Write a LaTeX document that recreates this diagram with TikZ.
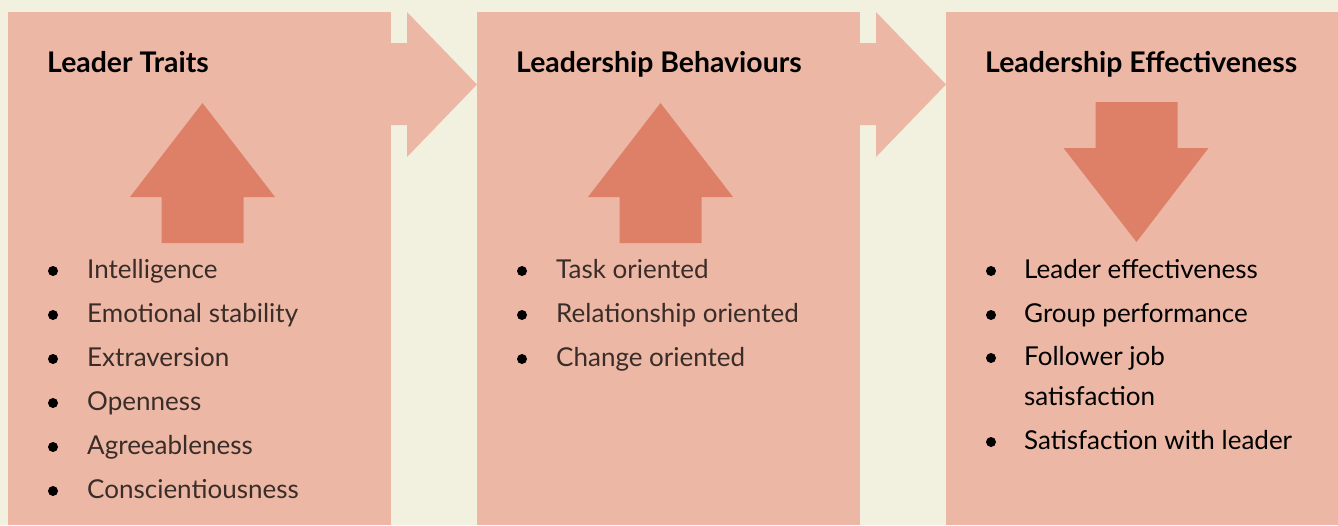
\documentclass[tikz,border=0pt]{standalone}
\usepackage{fontspec}
\setmainfont{Lato}
\usetikzlibrary{positioning}
\definecolor{cream}{HTML}{F2F0DF}
\definecolor{salmon}{HTML}{ECB8A5}
\definecolor{coral}{HTML}{DE7F68}
\definecolor{softink}{HTML}{3A2C28}

\tikzset{
  heading/.style={anchor=base west, inner sep=0pt, font=\bfseries\fontsize{28.4}{30}\selectfont},
  entry/.style={anchor=base west, inner sep=0pt, font=\fontsize{26}{30}\selectfont},
  dot/.style={circle, fill=black, inner sep=0pt, minimum size=10pt},
}

\begin{document}
\begin{tikzpicture}[x=1pt, y=-1pt]
  \fill[cream] (0,0) rectangle (1338,525);
  \useasboundingbox (0,0) rectangle (1338,525);

  % the three panels
  \fill[salmon] (8,12) rectangle (391,525);
  \fill[salmon] (477,12) rectangle (860,525);
  \fill[salmon] (946,12) rectangle (1338,525);

  % chevrons between panels
  \foreach \x in {391,860} {
    \fill[salmon] (\x,43) -- ++(16,0) -- ++(0,-31) -- (\x+86,84.5) -- (\x+16,157) -- ++(0,-32) -- (\x,125) -- cycle;
  }

  % big arrows
  \foreach \cx in {202.5,660.5} {
    \fill[coral] (\cx,103) -- (\cx+72.5,197) -- (\cx+41,197) -- (\cx+41,243) -- (\cx-41,243) -- (\cx-41,197) -- (\cx-72.5,197) -- cycle;
  }
  \fill[coral] (1095.5,102) -- (1177.5,102) -- (1177.5,148) -- (1208.5,148) -- (1136.5,242) -- (1063.5,148) -- (1095.5,148) -- cycle;

  \node[heading] (Traits) at (47,72) {Leader Traits};
  \node[heading] (Behaviours) at (516,72) {Leadership Behaviours};
  \node[heading] (Effectiveness) at (985,72) {Leadership Effectiveness};

  \foreach \txt [count=\i] in {Intelligence, Emotional stability, Extraversion, Openness, Agreeableness, Conscientiousness} {
    \node[dot] (TraitDot\i) at (53,227+44*\i) {};
    \node[entry, text=softink] (Trait\i) at (87,234+44*\i) {\txt};
  }

  \foreach \txt [count=\i] in {Task oriented, Relationship oriented, Change oriented} {
    \node[dot] (BehavDot\i) at (522,227+44*\i) {};
    \node[entry, text=softink] (Behav\i) at (556,234+44*\i) {\txt};
  }

  \foreach \txt/\y [count=\i] in {Leader effectiveness/278, Group performance/322, Follower job/365, Satisfaction with leader/449} {
    \node[dot] (EffDot\i) at (991,\y-7) {};
    \node[entry] (Eff\i) at (1024,\y) {\txt};
  }
  \node[entry] (Eff3b) at (1024,405) {satisfaction};
\end{tikzpicture}
\end{document}
